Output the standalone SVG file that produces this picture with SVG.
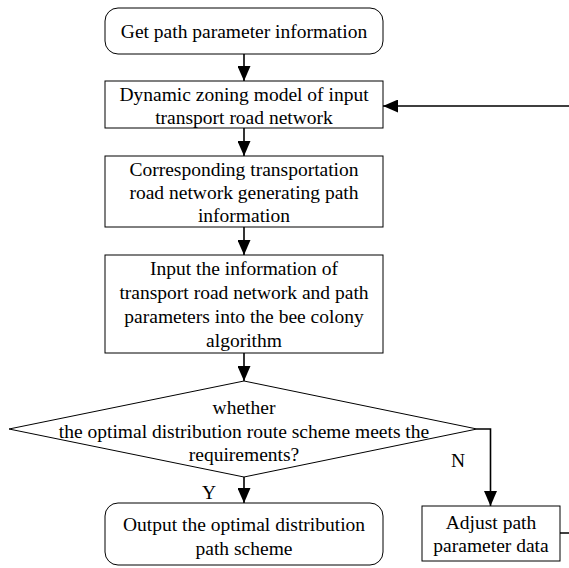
<svg xmlns="http://www.w3.org/2000/svg" width="569" height="568" viewBox="0 0 569 568">
  <style>
    .box { fill: #ffffff; stroke: #000000; stroke-width: 1; }
    .edge { fill: none; stroke: #000000; stroke-width: 1.6; }
    text { font-family: 'Liberation Serif', 'Times New Roman', serif; font-size: 19.5px; fill: #000000; text-anchor: middle; }
  </style>
  <defs>
    <!-- solid arrowhead shared by every connector -->
    <marker id="arrow" viewBox="0 0 15 13" refX="15" refY="6.5" markerWidth="15" markerHeight="13" markerUnits="userSpaceOnUse" orient="auto">
      <path d="M0,0 L15,6.5 L0,13 Z" fill="#000000"/>
    </marker>
  </defs>
  <rect width="569" height="568" fill="#ffffff"/>

  <g id="connectors">
    <line class="edge" x1="244" y1="54" x2="244" y2="81" marker-end="url(#arrow)"/>
    <line class="edge" x1="244" y1="128" x2="244" y2="156" marker-end="url(#arrow)"/>
    <line class="edge" x1="244" y1="227" x2="244" y2="255" marker-end="url(#arrow)"/>
    <line class="edge" x1="244" y1="353" x2="244" y2="381" marker-end="url(#arrow)"/>
    <line class="edge" x1="244" y1="477" x2="244" y2="503" marker-end="url(#arrow)"/>
    <polyline class="edge" points="477,429 490.5,429 490.5,506" marker-end="url(#arrow)"/>
    <!-- feedback loop runs past the right edge of the canvas -->
    <polyline class="edge" points="560,533 580,533 580,106 383,106" marker-end="url(#arrow)"/>
    <text x="209" y="499">Y</text>
    <text x="458" y="467">N</text>
  </g>

  <g id="start">
    <rect class="box" x="105" y="8" width="278" height="46" rx="13" ry="13"/>
    <text x="244" y="38">Get path parameter information</text>
  </g>

  <g id="zoning">
    <rect class="box" x="105" y="81" width="278" height="47"/>
    <text x="244" y="101">Dynamic zoning model of input</text>
    <text x="244" y="124">transport road network</text>
  </g>

  <g id="generate">
    <rect class="box" x="105" y="156" width="278" height="71"/>
    <text x="244" y="176">Corresponding transportation</text>
    <text x="244" y="199">road network generating path</text>
    <text x="244" y="222">information</text>
  </g>

  <g id="input">
    <rect class="box" x="105" y="255" width="278" height="98"/>
    <text x="244" y="275">Input the information of</text>
    <text x="244" y="299">transport road network and path</text>
    <text x="244" y="323">parameters into the bee colony</text>
    <text x="244" y="347">algorithm</text>
  </g>

  <g id="decision">
    <polygon class="box" points="9,429 244,381 477,429 244,477"/>
    <text x="244" y="414">whether</text>
    <text x="244" y="438">the optimal distribution route scheme meets the</text>
    <text x="244" y="461">requirements?</text>
  </g>

  <g id="output">
    <rect class="box" x="105" y="503" width="278" height="62" rx="13" ry="13"/>
    <text x="244" y="531">Output the optimal distribution</text>
    <text x="244" y="555">path scheme</text>
  </g>

  <g id="adjust">
    <rect class="box" x="422" y="506" width="138" height="55"/>
    <text x="491" y="529">Adjust path</text>
    <text x="491" y="552">parameter data</text>
  </g>
</svg>
